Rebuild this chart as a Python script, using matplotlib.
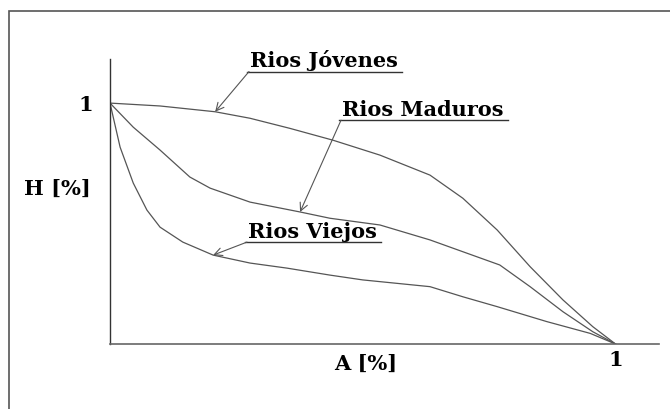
import matplotlib.pyplot as plt
from matplotlib.patches import Rectangle

# curvas hipsometricas
x_jov = [0, 0.099, 0.208, 0.277, 0.356, 0.441, 0.534, 0.633, 0.698, 0.766, 0.831, 0.896, 0.955, 1.0]
y_jov = [1.0, 0.988, 0.964, 0.937, 0.895, 0.846, 0.784, 0.701, 0.605, 0.473, 0.321, 0.183, 0.072, 0.0]

x_mad = [0, 0.046, 0.099, 0.158, 0.198, 0.277, 0.376, 0.435, 0.534, 0.633, 0.698, 0.771, 0.831, 0.896, 0.955, 1.0]
y_mad = [1.0, 0.900, 0.805, 0.693, 0.647, 0.589, 0.548, 0.522, 0.494, 0.432, 0.383, 0.328, 0.238, 0.134, 0.051, 0.0]

x_vie = [0, 0.020, 0.046, 0.073, 0.099, 0.144, 0.204, 0.277, 0.350, 0.435, 0.500, 0.633, 0.698, 0.766, 0.864, 0.950, 1.0]
y_vie = [1.0, 0.817, 0.668, 0.556, 0.485, 0.423, 0.369, 0.336, 0.315, 0.286, 0.266, 0.238, 0.196, 0.155, 0.093, 0.044, 0.0]

etiquetas = ["Rios Jóvenes", "Rios Maduros", "Rios Viejos"]

plt.rcParams["font.family"] = ["DejaVu Serif"]

fig = plt.figure(figsize=(6.7, 4.09), dpi=100)
fig.patches.append(Rectangle((9 / 670, -0.1), 1.2, 1.1 - 11 / 409, transform=fig.transFigure,
                             fill=False, edgecolor="#555555", linewidth=1.2))

ax = fig.add_axes([110 / 670, 65 / 409, 549 / 670, 285 / 409])
ax.set_xlim(0, 1.086)
ax.set_ylim(0, 1.183)

col = "#555555"
ax.plot(x_jov, y_jov, color=col, lw=0.9)
ax.plot(x_mad, y_mad, color=col, lw=0.9)
ax.plot(x_vie, y_vie, color=col, lw=0.9)

for s in ["top", "right"]:
    ax.spines[s].set_visible(False)
ax.spines["left"].set_color("#333333")
ax.spines["bottom"].set_color("#666666")
ax.spines["left"].set_linewidth(1.0)
ax.spines["bottom"].set_linewidth(1.2)

fs = 15
ax.set_xticks([1])
ax.set_yticks([1])
ax.set_xticklabels(["1"], fontsize=fs, fontweight="bold")
ax.set_yticklabels(["1"], fontsize=fs, fontweight="bold")
ax.tick_params(length=0, pad=4)
ax.tick_params(axis="y", pad=12)

ax.set_xlabel("A [%]", fontsize=fs, fontweight="bold")
ax.xaxis.set_label_coords(0.466, -0.036)
ax.set_ylabel("H [%]", fontsize=fs, fontweight="bold", rotation=0, va="center")
ax.yaxis.set_label_coords(-0.095, 0.545)

# anotaciones (texto subrayado + flecha)
anot = [
    (etiquetas[0], (0.208, 0.964), (0.275, 1.131)),
    (etiquetas[1], (0.376, 0.548), (0.457, 0.929)),
    (etiquetas[2], (0.204, 0.369), (0.271, 0.423)),
]
for txt, punta, base in anot:
    t = ax.text(base[0] + 0.002, base[1] + 0.017, txt, fontsize=fs, fontweight="bold",
                ha="left", va="baseline")
    ax.annotate("", xy=punta, xytext=base,
                arrowprops=dict(arrowstyle="->", color=col, lw=0.8, shrinkA=0, shrinkB=0,
                                mutation_scale=14))
    fig.canvas.draw()
    bb = t.get_window_extent().transformed(ax.transData.inverted())
    ax.plot([base[0] - 0.004, bb.x1 + 0.008], [base[1], base[1]], color="#333333", lw=1.0,
            clip_on=False)

fig.savefig("out.png", dpi=100)
